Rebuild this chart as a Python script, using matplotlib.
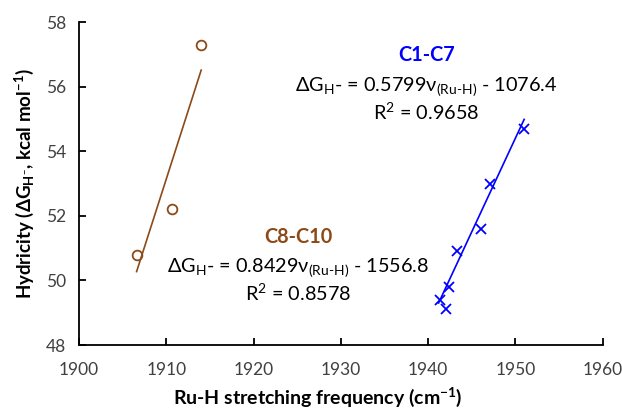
import numpy as np
import matplotlib
matplotlib.use("Agg")
import matplotlib.pyplot as plt

plt.rcParams['font.family'] = ['Lato', 'DejaVu Sans']
plt.rcParams['mathtext.fontset'] = 'custom'
plt.rcParams['mathtext.rm'] = 'Lato'
plt.rcParams['mathtext.it'] = 'Lato:italic'
plt.rcParams['mathtext.bf'] = 'Lato:bold'

# C1-C7 complexes
freq_c1c7 = [1941.4, 1942.0, 1942.4, 1943.3, 1946.0, 1947.1, 1951.0]
hyd_c1c7 = [49.4, 49.1, 49.8, 50.9, 51.6, 53.0, 54.7]
slope_c1c7, icpt_c1c7, r2_c1c7 = 0.5799, -1076.4, 0.9658

# C8-C10 complexes
freq_c8c10 = [1906.6, 1910.7, 1914.0]
hyd_c8c10 = [50.8, 52.2, 57.3]
slope_c8c10, icpt_c8c10, r2_c8c10 = 0.8429, -1556.8, 0.8578

blue = '#0000FF'
brown = '#8B4A17'
fs = 14.3

fig = plt.figure(figsize=(6.22, 4.12), dpi=100)
ax = fig.add_axes([0.127, 0.1626, 0.842, 0.784])

# trend lines
xl = np.array([min(freq_c1c7) - 0.2, max(freq_c1c7)])
ax.plot(xl, slope_c1c7 * xl + icpt_c1c7, color=blue, lw=1.2)
xl2 = np.array([min(freq_c8c10), max(freq_c8c10)])
ax.plot(xl2, slope_c8c10 * xl2 + icpt_c8c10, color=brown, lw=1.2)

ax.plot(freq_c1c7, hyd_c1c7, 'x', color=blue, ms=7, mew=1.3)
ax.plot(freq_c8c10, hyd_c8c10, 'o', mfc='none', mec=brown, ms=7, mew=1.3)

ax.set_xlim(1900, 1960)
ax.set_ylim(48, 58)
ax.set_xticks(range(1900, 1961, 10))
ax.set_yticks(range(48, 59, 2))
ax.spines['top'].set_visible(False)
ax.spines['right'].set_visible(False)
for s in ['left', 'bottom']:
    ax.spines[s].set_linewidth(1.3)
ax.tick_params(direction='in', length=5, width=1.3, labelsize=12.5,
               labelcolor='#404040')
ax.tick_params(axis='y', pad=9)
ax.tick_params(axis='x', pad=12)

ax.set_xlabel(r"Ru-H stretching frequency (cm$^{\mathbf{-1}}$)",
              fontsize=14, fontweight='bold')
ax.xaxis.set_label_coords(0.456, -0.125)
ax.set_ylabel(r"Hydricity ($\mathbf{\Delta G_{H^{-}}}$, kcal mol$^{\mathbf{-1}}$)",
              fontsize=13.5, fontweight='bold')
ax.yaxis.set_label_coords(-0.082, 0.5)

ax.text(1939.8, 56.98, "C1-C7", color=blue, fontsize=fs, fontweight='bold',
        ha='center', va='center')
ax.text(1939.8, 56.0, "ΔG$_{\\mathrm{H}}$- = %.4fν$_{\\text{(Ru-H)}}$ - %.1f"
        % (slope_c1c7, -icpt_c1c7), fontsize=fs, ha='center', va='center')
ax.text(1939.8, 55.2, r"R$^{2}$ = %.4f" % r2_c1c7, fontsize=fs,
        ha='center', va='center')

ax.text(1925.1, 51.35, "C8-C10", color=brown, fontsize=fs, fontweight='bold',
        ha='center', va='center')
ax.text(1925.1, 50.4, "ΔG$_{\\mathrm{H}}$- = %.4fν$_{\\text{(Ru-H)}}$ - %.1f"
        % (slope_c8c10, -icpt_c8c10), fontsize=fs, ha='center', va='center')
ax.text(1925.1, 49.6, r"R$^{2}$ = %.4f" % r2_c8c10, fontsize=fs,
        ha='center', va='center')

fig.savefig("out.png", dpi=100)
